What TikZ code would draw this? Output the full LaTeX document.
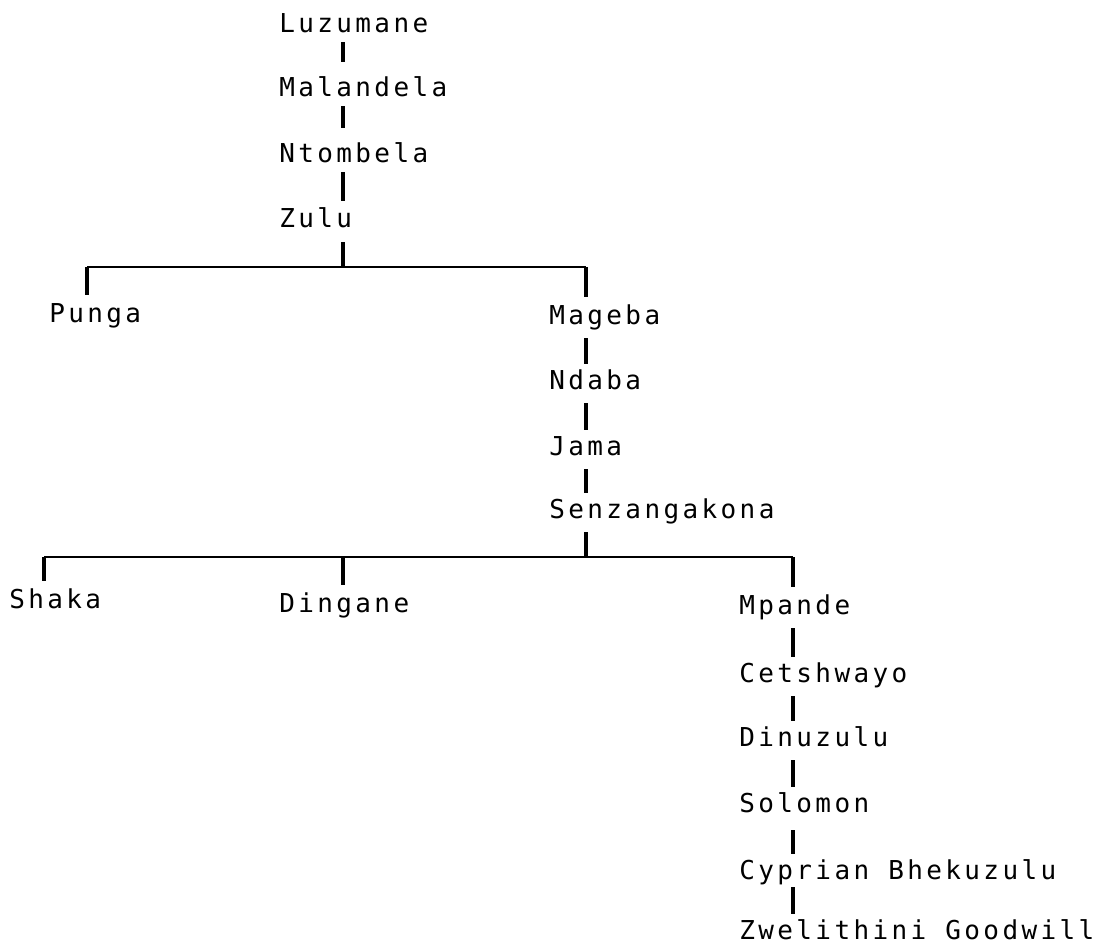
\documentclass[tikz,border=0pt]{standalone}
\usepackage{fontspec}
\setmonofont[LetterSpace=13]{DejaVu Sans Mono}

\tikzset{
    king/.style={anchor=base west,inner sep=0pt,text height=0.475cm,text depth=0pt,
        font=\fontsize{18.5}{22}\selectfont\ttfamily},
    tick/.style={line width=0.1cm,shorten <=0.35cm,shorten >=0.15cm},
    rule/.style={line width=0.06cm},
    drop/.style={line width=0.08cm,shorten >=0.2cm}
}

\begin{document}
\begin{tikzpicture}[x=0.025cm,y=-0.025cm]
        \useasboundingbox (0,0) rectangle (1110,945);
        % first line
        \node [king] (luzumane) at (279,33) {Luzumane};
        \node [king] (malandela) at (279,97) {Malandela};
        \node [king] (ntombela) at (279,163) {Ntombela};
        \node [king] (zulu) at (279,228) {Zulu};
        \node [king] (punga) at (49,322) {Punga};
        \node [king] (mageba) at (549,324) {Mageba};
        \node [king] (ndaba) at (549,389) {Ndaba};
        \node [king] (jama) at (549,455) {Jama};
        \node [king] (senzangakona) at (549,518) {Senzangakona};
        \node [king] (shaka) at (9,608) {Shaka};
        \node [king] (dingane) at (279,612) {Dingane};
        \node [king] (mpande) at (739,614) {Mpande};
        \node [king] (cetshwayo) at (739,682) {Cetshwayo};
        \node [king] (dinuzulu) at (739,746) {Dinuzulu};
        \node [king] (solomon) at (739,812) {Solomon};
        \node [king] (cyprian) at (739,879) {Cyprian Bhekuzulu};
        \node [king] (zwelithini) at (739,939) {Zwelithini Goodwill};
        % stems
        \coordinate (c1) at (343,0);
        \coordinate (c2) at (586,0);
        \coordinate (c3) at (793,0);
        \draw [tick,shorten <=0.225cm,shorten >=0.4cm] (luzumane.south -| c1) -- (malandela.north -| c1);
        \draw [tick,shorten <=0.225cm,shorten >=0.4cm] (malandela.south -| c1) -- (ntombela.north -| c1);
        \draw [tick,shorten <=0.225cm,shorten >=0.2cm] (ntombela.south -| c1) -- (zulu.north -| c1);
        \draw [tick] (mageba.south -| c2) -- (ndaba.north -| c2);
        \draw [tick] (ndaba.south -| c2) -- (jama.north -| c2);
        \draw [tick] (jama.south -| c2) -- (senzangakona.north -| c2);
        \draw [tick] (mpande.south -| c3) -- (cetshwayo.north -| c3);
        \draw [tick] (cetshwayo.south -| c3) -- (dinuzulu.north -| c3);
        \draw [tick] (dinuzulu.south -| c3) -- (solomon.north -| c3);
        \draw [tick,shorten <=0.45cm] (solomon.south -| c3) -- (cyprian.north -| c3);
        \draw [tick,shorten <=0.2cm,shorten >=0.15cm] (cyprian.south -| c3) -- (zwelithini.north -| c3);
        % branches
        \coordinate (j1) at (343,267);
        \coordinate (j2) at (586,557);
        \draw [tick,shorten >=0cm] (zulu.south -| j1) -- (j1);
        \draw [rule] (j1 -| punga.west) ++(38,0) coordinate (b1) -- (j1 -| c2) coordinate (b2);
        \draw [drop] (b1) -- (b1 |- punga.north);
        \draw [drop] (b2) -- (mageba.north -| b2);
        \draw [tick,shorten >=0cm] (senzangakona.south -| j2) -- (j2);
        \draw [rule] (j2 -| shaka.west) ++(35,0) coordinate (b3) -- (j2 -| c3) coordinate (b4);
        \draw [drop] (b3) -- (b3 |- shaka.north);
        \draw [drop] (j2 -| c1) -- (dingane.north -| c1);
        \draw [drop] (b4) -- (mpande.north -| b4);
\end{tikzpicture}
\end{document}
